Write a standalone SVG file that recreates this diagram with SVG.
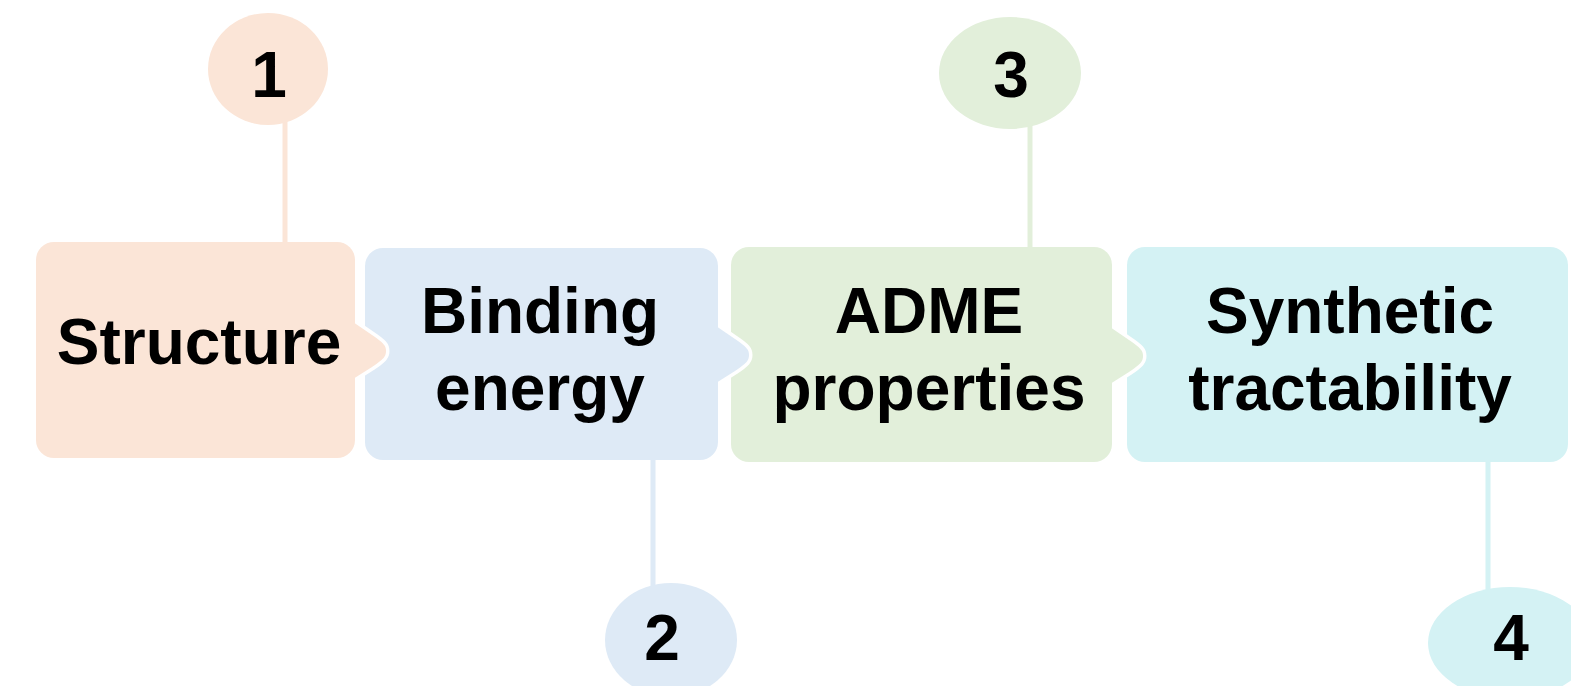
<svg xmlns="http://www.w3.org/2000/svg" width="1571" height="686" viewBox="0 0 1571 686">
<style>
.lbl{font-family:"Liberation Sans",Arial,sans-serif;font-weight:bold;font-size:64px;fill:#000;text-anchor:middle}
.num{font-family:"Liberation Sans",Arial,sans-serif;font-weight:bold;font-size:64px;fill:#000;text-anchor:middle}
.halo{fill:#fff;stroke:#fff;stroke-width:7;stroke-linejoin:round}
.c1{fill:#FBE5D7}.s1{stroke:#FBE5D7}
.c2{fill:#DEEAF6}.s2{stroke:#DEEAF6}
.c3{fill:#E2EFDA}.s3{stroke:#E2EFDA}
.c4{fill:#D4F2F4}.s4{stroke:#D4F2F4}
.ln{stroke-width:5;fill:none}
</style>
<defs>
<path id="arrowA" d="M0,0 L19,13 C31,21 33,24 33,29 C33,34 31,37 19,45 L0,57 Z"/>
</defs>
<rect width="1571" height="686" fill="#fff"/>
<g id="connectors">
<line class="ln s1" x1="285" y1="120" x2="285" y2="245"/>
<line class="ln s2" x1="653" y1="457" x2="653" y2="588"/>
<line class="ln s3" x1="1030" y1="125" x2="1030" y2="250"/>
<line class="ln s4" x1="1488" y1="459" x2="1488" y2="592"/>
</g>
<g id="node4">
<rect class="c4" x="1127" y="247" width="441" height="215" rx="18"/>
<text class="lbl" x="1350" y="333">Synthetic</text>
<text class="lbl" x="1350" y="410">tractability</text>
</g>
<g id="node3">
<use href="#arrowA" class="halo" x="1110" y="327"/>
<rect class="c3" x="731" y="247" width="381" height="215" rx="18"/>
<use href="#arrowA" class="c3" x="1110" y="327"/>
<text class="lbl" x="929" y="333">ADME</text>
<text class="lbl" x="929" y="410">properties</text>
</g>
<g id="node2">
<use href="#arrowA" class="halo" x="716" y="326"/>
<rect class="c2" x="365" y="248" width="353" height="212" rx="18"/>
<use href="#arrowA" class="c2" x="716" y="326"/>
<text class="lbl" x="540" y="333">Binding</text>
<text class="lbl" x="540" y="410">energy</text>
</g>
<g id="node1">
<use href="#arrowA" class="halo" x="353" y="322"/>
<rect class="c1" x="36" y="242" width="319" height="216" rx="18"/>
<use href="#arrowA" class="c1" x="353" y="322"/>
<text class="lbl" x="199" y="364">Structure</text>
</g>
<g id="badge1">
<ellipse class="c1" cx="268" cy="69" rx="60" ry="56"/>
<text class="num" x="269" y="97">1</text>
</g>
<g id="badge2">
<ellipse class="c2" cx="671" cy="640" rx="66" ry="57"/>
<text class="num" x="662" y="660">2</text>
</g>
<g id="badge3">
<ellipse class="c3" cx="1010" cy="73" rx="71" ry="56"/>
<text class="num" x="1011" y="97">3</text>
</g>
<g id="badge4">
<ellipse class="c4" cx="1510" cy="643" rx="82" ry="56"/>
<text class="num" x="1511" y="660">4</text>
</g>
</svg>
